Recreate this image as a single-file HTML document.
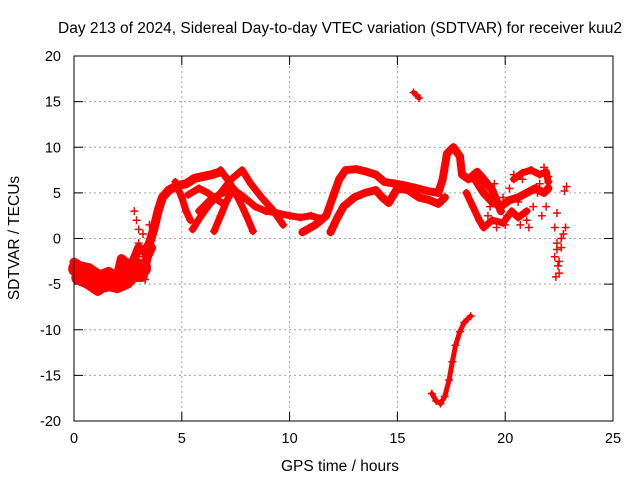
<!DOCTYPE html>
<html><head><meta charset="utf-8">
<style>
html,body{margin:0;padding:0;background:#fff;}
svg{display:block;font-family:"Liberation Sans",sans-serif;}
</style></head>
<body>
<svg id="chart" width="640" height="480" viewBox="0 0 640 480" xmlns="http://www.w3.org/2000/svg">
<rect width="640" height="480" fill="#fff"/>
<text x="340" y="33" font-size="15.5" text-anchor="middle" fill="#000">Day 213 of 2024, Sidereal Day-to-day VTEC variation (SDTVAR) for receiver kuu2</text>
<text x="0" y="0" font-size="15.5" text-anchor="middle" transform="translate(19,238) rotate(-90)">SDTVAR / TECUs</text>
<text x="340" y="471" font-size="15.5" text-anchor="middle">GPS time / hours</text>
<g id="grid"></g>
<g id="marks"></g>
<rect x="74" y="56" width="539" height="365" fill="none" stroke="#000" stroke-width="1"/>
</svg>
<script>
const xTicks=[0,5,10,15,20,25];
const yTicks=[-20,-15,-10,-5,0,5,10,15,20];
// tracks: [hour, value]
const earlyBlob=[[0.1,-3.3],[0.5,-3.8],[0.9,-4.2],[1.3,-4.3],[1.7,-4.5],[2.1,-4.3],[2.5,-3.5],[2.9,-3],[3.2,-3.3]];
const earlyBlob2=[[0.2,-4.3],[0.7,-4.8],[1.2,-5.2],[1.7,-5],[2.2,-4.8],[2.7,-4],[3.1,-4]];
const trackEarly=[[0,-2.6],[0.3,-3],[0.7,-3.2],[1.2,-4],[1.6,-3.6],[2.0,-4.2],[2.2,-2.2],[2.6,-3],[2.8,-2.2],[3.0,-1],[3.3,-1.5],[3.5,-0.5],[3.7,1],[3.9,3],[4.1,4.5],[4.4,5.3],[4.8,5.8],[5.2,6],[5.6,6.6],[6.0,6.8],[6.4,7],[6.8,7.3]];
const trackEarlyLow=[[0.6,-5],[1.1,-5.8],[1.5,-5.2],[2.0,-5.5],[2.5,-5],[2.9,-4],[3.2,-4.2],[3.4,-2],[3.6,-1]];
const spikes=[[2.8,3],[2.9,2],[3.0,1],[3.2,0.5],[3.4,-3],[3.5,1.5],[3.6,-0.2],[3.3,-4.5],[3.0,-0.5],[3.2,-2],[2.9,-1.5]];
const lineA=[[4.7,6.2],[5.0,4.5],[5.2,3],[5.4,2]];
const lineB=[[5.5,1],[5.9,2.5],[6.3,3.8],[6.8,5],[7.3,6.5],[7.8,7.5],[8.2,6],[8.7,4.5],[9.2,3.2],[9.7,1.5]];
const lineC=[[6.8,7.5],[7.2,6.2],[7.6,4.5],[8.0,2.5],[8.3,0.8]];
const lineD=[[6.5,0.8],[6.8,2.5],[7.1,4.2],[7.4,5.5]];
const lineE=[[5.8,3],[6.3,4.2],[6.9,5],[7.5,5.2],[7.9,4.5],[8.4,3.5],[8.9,3],[9.4,2.8],[10,2.5],[10.5,2.3],[11,2.5],[11.4,2.2]];
const lineF=[[5.3,4.8],[5.8,5.5],[6.2,5],[6.8,4]];
const midUpper=[[10.6,0.7],[11.2,1.5],[11.7,2.5],[12.0,4.5],[12.3,6.5],[12.6,7.5],[13.1,7.6],[13.6,7.3],[14.0,7],[14.4,6.2],[14.9,6],[15.4,5.8],[15.9,5.5],[16.4,5.2],[16.9,5],[17.1,6.5],[17.3,9.3],[17.6,10],[17.9,9],[18.0,7],[18.3,6.5],[18.7,7.3],[19.0,6.5],[19.4,5.3],[19.8,3]];
const midLower=[[11.9,0.7],[12.2,2.2],[12.5,3.5],[13.0,4.5],[13.5,5],[14.0,5.3],[14.3,4.5],[14.6,3.9],[15.0,5.5],[15.5,5.3],[16.0,4.5],[16.5,4.2],[16.9,3.8],[17.2,4.5]];
const lateBranch=[[18.2,5],[18.5,3.5],[18.8,2],[19.0,1.2],[19.4,2],[19.9,1.7],[20.3,3],[20.6,2.3],[21.0,3]];
const lateBand=[[18.6,6.5],[19.0,5],[19.4,4],[19.8,3.5],[20.2,4.2],[20.6,4.5],[21.0,5],[21.4,5.5],[21.8,5],[22.0,5.5]];
const lateBand2=[[20.4,6.5],[20.8,7.2],[21.2,7.5],[21.6,7],[21.9,7.3],[22.0,6.2]];
const lateCluster=[[19.5,6],[19.9,4.5],[20.2,5.5],[20.4,7],[20.6,4],[20.8,6.5],[21.0,2],[21.2,7.5],[21.5,5],[21.8,7.8],[21.9,3.5],[21.6,6],[22.0,6.8],[21.3,3.5],[20.1,2.5],[19.2,2.5],[19.6,1.2],[20.0,1.5],[21.1,1.2],[21.7,2.5],[19.3,3.5],[20.7,1.5]];
const lateDrop=[[22.3,1.2],[22.4,-0.5],[22.3,-2],[22.45,-3],[22.35,-4.2],[22.5,-3.8],[22.6,-1],[22.7,0.5],[22.8,1.2],[22.4,-1.2],[22.5,-2.5],[22.6,0]];
const lateIso=[[22.75,5.2],[22.85,5.7],[22.4,2.8]];
const outlierHigh=[[15.75,16],[15.9,15.7],[16.0,15.4]];
const negTrack=[[16.6,-17],[16.8,-17.8],[17.0,-18.1],[17.2,-17.3],[17.4,-15.5],[17.55,-13.5],[17.7,-11.7],[17.9,-10.2],[18.1,-9.2],[18.4,-8.5]];
const tracks=[
 ['track-early-blob',earlyBlob,16],['track-early-blob-2',earlyBlob2,14],
 ['track-early',trackEarly,9],['track-early-low',trackEarlyLow,9],['track-spikes',spikes,0],
 ['track-a',lineA,7],['track-b',lineB,7],['track-c',lineC,7],['track-d',lineD,7],['track-e',lineE,7],['track-f',lineF,7],
 ['track-mid-upper',midUpper,8],['track-mid-lower',midLower,8],['track-late-branch',lateBranch,7],
 ['track-late-band',lateBand,8],['track-late-band-2',lateBand2,7],
 ['track-late-cluster',lateCluster,0],['track-late-drop',lateDrop,0],['track-late-iso',lateIso,0],
 ['track-outlier-high',outlierHigh,5],['track-negative',negTrack,5]];
const X=h=>74+h*539/25;
const Y=v=>238.5-v*365/40;
const NS='http://www.w3.org/2000/svg';
const grid=document.getElementById('grid'),marks=document.getElementById('marks');
function mk(t,a,p){const e=document.createElementNS(NS,t);for(const k in a)e.setAttribute(k,a[k]);p.appendChild(e);return e;}
xTicks.forEach(t=>{const x=X(t);
 const g=mk('line',{x1:x,y1:56,x2:x,y2:421,stroke:'#a0a0a0','stroke-dasharray':'2,3'},grid);
 
 
 mk('line',{x1:x,y1:421,x2:x,y2:412,stroke:'#000'},grid);
 mk('line',{x1:x,y1:56,x2:x,y2:65,stroke:'#000'},grid);
 const l=mk('text',{x:x,y:443,'font-size':14.5,'text-anchor':'middle'},grid);l.textContent=t;
 
 });
yTicks.forEach(t=>{const y=Y(t);
 const g=mk('line',{x1:74,y1:y,x2:613,y2:y,stroke:'#a0a0a0','stroke-dasharray':'2,3'},grid);
 
 
 mk('line',{x1:74,y1:y,x2:83,y2:y,stroke:'#000'},grid);
 mk('line',{x1:604,y1:y,x2:613,y2:y,stroke:'#000'},grid);
 const l=mk('text',{x:61,y:y+5,'font-size':14.5,'text-anchor':'end'},grid);l.textContent=t;
 
 });
tracks.forEach(([name,pts,w])=>{
 const g=mk('g',{},marks);
 
 
 if(w>0){mk('polyline',{points:pts.map(p=>X(p[0])+','+Y(p[1])).join(' '),fill:'none',stroke:'#f00','stroke-width':w,'stroke-linejoin':'round','stroke-linecap':'round'},g);}
 pts.forEach(p=>{const x=X(p[0]),y=Y(p[1]);
  mk('path',{d:`M${x-4},${y}H${x+4}M${x},${y-4}V${y+4}`,stroke:'#f00','stroke-width':1.5},g);});
});
</script>
</body></html>
